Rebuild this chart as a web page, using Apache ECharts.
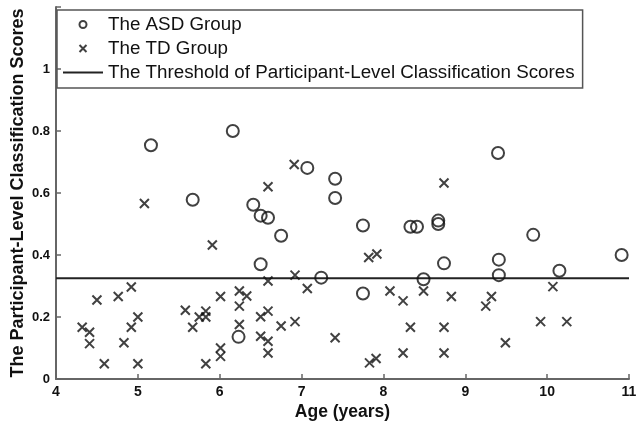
<!DOCTYPE html>
<html lang="en">
<head>
    <meta charset="utf-8" />
    <title>Participant-Level Classification Scores</title>
    <script src="https://cdn.jsdelivr.net/npm/echarts@6/dist/echarts.min.js"></script>
    <style>
        body { margin: 0; padding: 0; background: #fff; }
        #main { width: 636px; height: 424px; }
    </style>
</head>
<body>
<div id="main"></div>
<script type="text/javascript">
    // Data: [age, score]
    const asdGroup = [
        [5.16, 0.754], [5.67, 0.578], [6.16, 0.800], [6.23, 0.136], [6.41, 0.562],
        [6.50, 0.527], [6.59, 0.520], [6.50, 0.370], [6.75, 0.462], [7.07, 0.681],
        [7.24, 0.327], [7.41, 0.646], [7.41, 0.584], [7.75, 0.495], [7.75, 0.276],
        [8.33, 0.491], [8.41, 0.491], [8.49, 0.322], [8.67, 0.511], [8.67, 0.500],
        [8.74, 0.373], [9.40, 0.729], [9.41, 0.385], [9.41, 0.335], [9.83, 0.465],
        [10.15, 0.349], [10.91, 0.400]
    ];
    const tdGroup = [
        [4.32, 0.167], [4.41, 0.151], [4.41, 0.114], [4.50, 0.255], [4.59, 0.049],
        [4.76, 0.266], [4.83, 0.117], [4.92, 0.297], [4.92, 0.167], [5.00, 0.200],
        [5.00, 0.049], [5.08, 0.566], [5.58, 0.222], [5.67, 0.167], [5.75, 0.200],
        [5.83, 0.219], [5.83, 0.200], [5.83, 0.049], [5.91, 0.432], [6.01, 0.266],
        [6.01, 0.100], [6.01, 0.073], [6.24, 0.284], [6.33, 0.268], [6.24, 0.235],
        [6.24, 0.176], [6.50, 0.201], [6.59, 0.219], [6.59, 0.316], [6.59, 0.620],
        [6.50, 0.138], [6.59, 0.122], [6.59, 0.084], [6.75, 0.171], [6.91, 0.692],
        [6.92, 0.335], [6.92, 0.185], [7.07, 0.292], [7.41, 0.133], [7.82, 0.392],
        [7.92, 0.403], [7.83, 0.052], [7.91, 0.066], [8.08, 0.284], [8.24, 0.252],
        [8.33, 0.167], [8.24, 0.084], [8.49, 0.284], [8.74, 0.632], [8.83, 0.266],
        [8.74, 0.167], [8.74, 0.084], [9.25, 0.235], [9.32, 0.266], [9.49, 0.117],
        [9.92, 0.185], [10.07, 0.298], [10.24, 0.185]
    ];
    const threshold = 0.325;
    const ageRange = [4, 11];
    const seriesNames = [
        'The ASD Group',
        'The TD Group',
        'The Threshold of Participant-Level Classification Scores'
    ];

    const axisGray = '#666';
    const ink = '#111';
    const font = 'Liberation Sans, Arial, sans-serif';

    var myChart = echarts.init(document.getElementById('main'));

    var option = {
        backgroundColor: '#fff',
        animation: false,
        grid: { left: 56, right: 7, top: 7, bottom: 45, containLabel: false, outerBoundsMode: 'none' },
        legend: {
            orient: 'vertical',
            left: 57,
            top: 10,
            padding: [5, 8, 6, 6],
            itemGap: 5,
            itemWidth: 40,
            itemHeight: 7,
            itemTextGap: 3,
            borderColor: '#555',
            borderWidth: 1.5,
            textStyle: { fontFamily: font, fontSize: 18.8, color: ink, lineHeight: 16 },
            data: [
                { name: seriesNames[0] },
                { name: seriesNames[1] },
                { name: seriesNames[2], icon: 'path://M0,0H40V2H0Z' }
            ]
        },
        xAxis: {
            type: 'value',
            min: ageRange[0],
            max: ageRange[1],
            interval: 1,
            name: 'Age (years)',
            nameLocation: 'middle',
            nameGap: 24,
            nameMoveOverlap: false,
            nameTextStyle: { fontFamily: font, fontSize: 17.5, fontWeight: 'bold', color: ink },
            axisLine: { lineStyle: { color: axisGray, width: 2 } },
            axisTick: { inside: true, length: 5, lineStyle: { color: axisGray, width: 1.5 } },
            axisLabel: { fontFamily: font, fontSize: 14, fontWeight: 'bold', color: ink, margin: 6 },
            splitLine: { show: false }
        },
        yAxis: {
            type: 'value',
            min: 0,
            max: 1.2,
            interval: 0.2,
            name: 'The Participant-Level Classification Scores',
            nameLocation: 'middle',
            nameGap: 29,
            nameMoveOverlap: false,
            nameTextStyle: { fontFamily: font, fontSize: 18, fontWeight: 'bold', color: ink },
            axisLine: { show: true, lineStyle: { color: axisGray, width: 2 } },
            axisTick: { show: true, inside: true, length: 5, lineStyle: { color: axisGray, width: 1.5 } },
            axisLabel: {
                fontFamily: font, fontSize: 13, fontWeight: 'bold', color: ink, margin: 6,
                formatter: function (v) { return v > 1.01 ? '' : String(Math.round(v * 10) / 10); }
            },
            splitLine: { show: false }
        },
        series: [
            {
                name: seriesNames[0],
                type: 'scatter',
                symbol: 'circle',
                symbolSize: 12,
                itemStyle: { color: 'transparent', borderColor: ink, borderWidth: 2 },
                data: asdGroup,
                z: 3
            },
            {
                name: seriesNames[1],
                type: 'scatter',
                symbol: 'path://M0,0L10,10M10,0L0,10',
                symbolSize: 9,
                itemStyle: { color: 'transparent', borderColor: ink, borderWidth: 2 },
                data: tdGroup,
                z: 3
            },
            {
                name: seriesNames[2],
                type: 'line',
                symbol: 'none',
                itemStyle: { color: '#222' },
                lineStyle: { color: '#222', width: 2 },
                data: [[ageRange[0], threshold], [ageRange[1], threshold]],
                z: 2
            }
        ]
    };

    myChart.setOption(option);
</script>
</body>
</html>
